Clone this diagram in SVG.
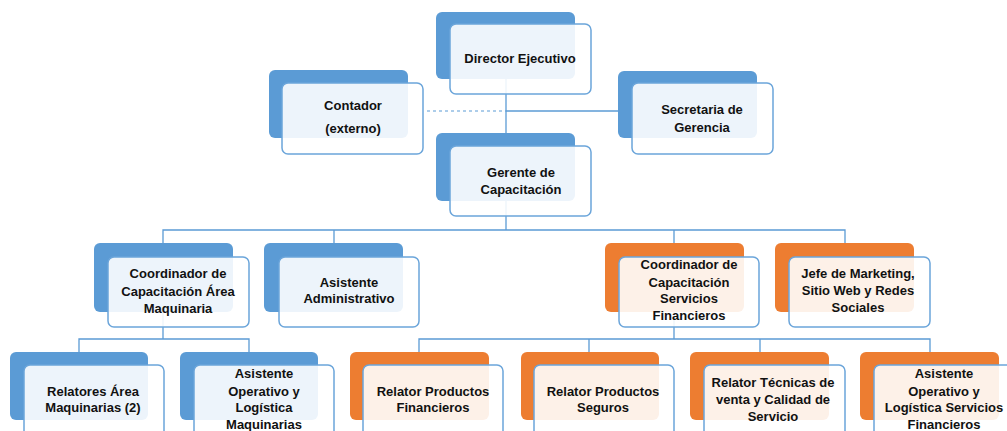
<svg xmlns="http://www.w3.org/2000/svg" width="1007" height="431" viewBox="0 0 1007 431">
<style>
.bb{fill:#5B9BD5}
.bo{fill:#ED7D31}
.fr{fill:#ffffff;fill-opacity:0.89;stroke:#6BA5DA;stroke-width:1.5}
.ln{fill:none;stroke:#5B9BD5;stroke-width:1.3}
.ds{fill:none;stroke:#5B9BD5;stroke-width:1;stroke-dasharray:3 3}
text{font-family:"Liberation Sans",Arial,sans-serif;font-weight:bold;font-size:13px;fill:#111;text-anchor:middle}
</style>
<rect width="1007" height="431" fill="#ffffff"/>
<g id="connectors">
<path class="ln" d="M506,60 V230"/>
<path class="ln" d="M506,111 H618"/>
<path class="ds" d="M427,111 H506"/>
<path class="ln" d="M163,243 V230 H845 V243 M334,230 V243 M674,230 V243"/>
<path class="ln" d="M163,300 V339 M79,352 V339 H249 V352"/>
<path class="ln" d="M674,300 V339 M419,352 V339 H930 V352 M589,339 V352 M760,339 V352"/>
</g>
<g id="director">
<rect class="bb" x="436" y="12" width="139" height="67" rx="6"/>
<rect class="fr" x="450" y="24" width="141" height="70" rx="6"/>
<text x="520" y="63">Director Ejecutivo</text>
</g>
<g id="contador">
<rect class="bb" x="269" y="70" width="139" height="68" rx="6"/>
<rect class="fr" x="282" y="83" width="141" height="71" rx="6"/>
<text x="353" y="110">Contador</text>
<text x="353" y="133">(externo)</text>
</g>
<g id="secretaria">
<rect class="bb" x="618" y="71" width="139" height="67" rx="6"/>
<rect class="fr" x="632" y="83" width="141" height="71" rx="6"/>
<text x="702" y="114">Secretaria de</text>
<text x="702" y="132">Gerencia</text>
</g>
<g id="gerente">
<rect class="bb" x="436" y="133" width="139" height="68" rx="6"/>
<rect class="fr" x="450" y="146" width="141" height="70" rx="6"/>
<text x="521" y="177">Gerente de</text>
<text x="521" y="194">Capacitación</text>
</g>
<g id="coord-maq">
<rect class="bb" x="94" y="243" width="139" height="69" rx="6"/>
<rect class="fr" x="108" y="257" width="141" height="70" rx="6"/>
<text x="178" y="278">Coordinador de</text>
<text x="178" y="296">Capacitación Área</text>
<text x="178" y="313">Maquinaria</text>
</g>
<g id="asist-admin">
<rect class="bb" x="264" y="243" width="139" height="69" rx="6"/>
<rect class="fr" x="279" y="257" width="140" height="70" rx="6"/>
<text x="349" y="287">Asistente</text>
<text x="349" y="303">Administrativo</text>
</g>
<g id="coord-sf">
<rect class="bo" x="605" y="243" width="139" height="69" rx="6"/>
<rect class="fr" x="619" y="257" width="140" height="70" rx="6"/>
<text x="689" y="269">Coordinador de</text>
<text x="689" y="287">Capacitación</text>
<text x="689" y="303">Servicios</text>
<text x="689" y="320">Financieros</text>
</g>
<g id="jefe-mkt">
<rect class="bo" x="775" y="243" width="139" height="69" rx="6"/>
<rect class="fr" x="789" y="257" width="141" height="70" rx="6"/>
<text x="858" y="278">Jefe de Marketing,</text>
<text x="858" y="295">Sitio Web y Redes</text>
<text x="858" y="312">Sociales</text>
</g>
<g id="relatores-maq">
<rect class="bb" x="10" y="352" width="138" height="68" rx="6"/>
<rect class="fr" x="24" y="365" width="140" height="72" rx="6"/>
<text x="93" y="396">Relatores Área</text>
<text x="93" y="412">Maquinarias (2)</text>
</g>
<g id="asist-op-maq">
<rect class="bb" x="180" y="352" width="138" height="68" rx="6"/>
<rect class="fr" x="194" y="365" width="140" height="72" rx="6"/>
<text x="264" y="378">Asistente</text>
<text x="264" y="396">Operativo y</text>
<text x="264" y="412">Logística</text>
<text x="264" y="429">Maquinarias</text>
</g>
<g id="relator-fin">
<rect class="bo" x="350" y="352" width="139" height="68" rx="6"/>
<rect class="fr" x="363" y="365" width="140" height="72" rx="6"/>
<text x="433" y="396">Relator Productos</text>
<text x="433" y="412">Financieros</text>
</g>
<g id="relator-seg">
<rect class="bo" x="521" y="352" width="138" height="68" rx="6"/>
<rect class="fr" x="534" y="365" width="140" height="72" rx="6"/>
<text x="603" y="396">Relator Productos</text>
<text x="603" y="412">Seguros</text>
</g>
<g id="relator-tec">
<rect class="bo" x="690" y="352" width="139" height="68" rx="6"/>
<rect class="fr" x="704" y="365" width="141" height="72" rx="6"/>
<text x="773" y="387">Relator Técnicas de</text>
<text x="773" y="404">venta y Calidad de</text>
<text x="773" y="421">Servicio</text>
</g>
<g id="asist-op-sf">
<rect class="bo" x="860" y="352" width="139" height="68" rx="6"/>
<rect class="fr" x="874" y="365" width="141" height="72" rx="6"/>
<text x="944" y="378">Asistente</text>
<text x="944" y="396">Operativo y</text>
<text x="944" y="412">Logística Servicios</text>
<text x="944" y="429">Financieros</text>
</g>
</svg>
